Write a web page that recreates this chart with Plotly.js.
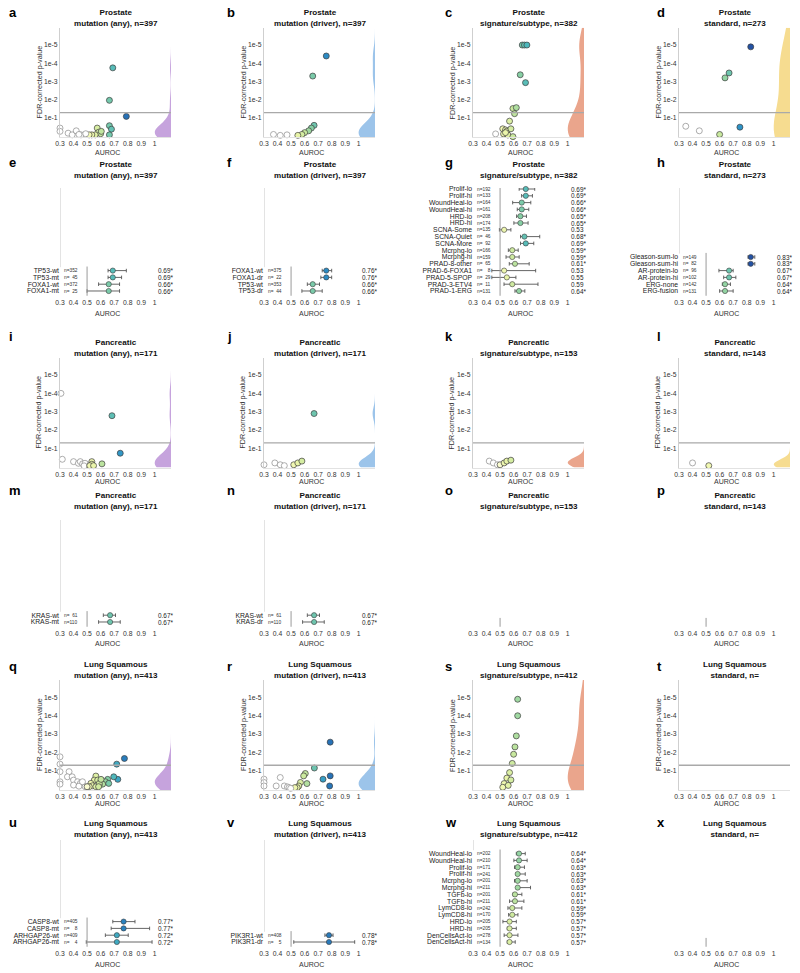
<!DOCTYPE html>
<html><head><meta charset="utf-8">
<script src="https://cdn.plot.ly/plotly-3.0.1.min.js"></script>
<style>body{margin:0;background:#fff}#chart{width:800px;height:973px}</style>
</head><body><div id="chart"></div>
<script>
// ---------- DATA (AUROC, -log10 FDR p) ----------
const aAuc=[0.69,0.665,0.79,0.665,0.68,0.665,0.575,0.585,0.60,0.56,0.535,0.515,0.605,0.30,0.30,0.36,0.39,0.42,0.455,0.49,0.44];
const aNlp=[3.75,1.97,1.09,0.58,0.39,0.08,0.45,0.22,0.14,0.08,0.08,0.08,0.27,0.45,0.27,0.17,0.08,0.30,0.08,0.14,0.10];
const bAuc=[0.76,0.66,0.67,0.65,0.63,0.60,0.58,0.55,0.37,0.42,0.47];
const bNlp=[4.40,3.30,0.60,0.45,0.30,0.20,0.10,0.05,0.10,0.05,0.08];
const cAuc=[0.664,0.68,0.698,0.649,0.688,0.595,0.62,0.607,0.57,0.467,0.52,0.54,0.55,0.58,0.526,0.558,0.595,0.54];
const cNlp=[5.0,5.0,5.0,3.37,2.94,1.52,1.57,1.24,0.83,0.13,0.41,0.35,0.28,0.41,0.13,0.07,-0.02,0.20];
const dAuc=[0.83,0.67,0.64,0.35,0.45,0.60,0.75];
const dNlp=[4.90,3.47,3.20,0.55,0.30,0.10,0.50];
const iAuc=[0.307,0.684,0.745,0.317,0.40,0.436,0.45,0.467,0.485,0.478,0.535,0.535,0.52,0.548,0.61];
const iNlp=[4.0,2.78,0.73,0.40,0.27,0.18,0.27,0.15,0.18,0.04,0.27,0.13,0.05,0.05,0.15];
const jAuc=[0.67,0.30,0.38,0.42,0.45,0.52,0.55,0.58];
const jNlp=[2.90,0.10,0.20,0.10,0.05,0.10,0.20,0.30];
const kAuc=[0.42,0.45,0.48,0.50,0.53,0.55,0.58];
const kNlp=[0.30,0.20,0.10,0.10,0.20,0.30,0.35];
const lAuc=[0.40,0.52];
const lNlp=[0.20,0.05];
const qAuc=[0.776,0.719,0.727,0.697,0.652,0.635,0.66,0.615,0.59,0.30,0.30,0.30,0.30,0.30,0.367,0.355,0.39,0.40,0.43,0.45,0.40,0.44,0.486,0.466,0.565,0.553,0.578,0.528,0.54,0.565,0.59,0.603,0.585,0.516,0.50];
const qNlp=[1.67,1.36,0.53,0.67,0.53,0.40,0.31,0.27,0.22,1.76,1.36,0.95,0.40,0.27,0.95,0.67,0.67,0.49,0.40,0.31,0.22,0.16,0.13,0.40,0.71,0.49,0.49,0.31,0.18,0.13,0.31,0.53,0.13,0.13,0.13];
const rAuc=[0.789,0.672,0.789,0.736,0.785,0.605,0.593,0.617,0.569,0.557,0.545,0.528,0.30,0.30,0.30,0.42,0.39,0.45,0.473,0.485,0.497];
const rNlp=[2.56,1.15,0.72,0.54,0.17,0.85,0.72,0.30,0.36,0.17,0.08,0.08,0.54,0.36,0.17,0.63,0.17,0.17,0.12,0.08,0.04];
const sAuc=[0.63,0.63,0.62,0.61,0.60,0.59,0.57,0.55,0.53,0.52,0.56,0.58];
const sNlp=[4.90,4.00,2.90,2.30,1.90,1.40,0.90,0.60,0.30,0.10,0.20,0.50];
const tAuc=[];
const tNlp=[];

const eLab=['TP53-wt','TP53-mt','FOXA1-wt','FOXA1-mt'];
const eN=[352,45,372,25];
const eAuc=[0.69,0.69,0.66,0.66];
const eLo=[0.655,0.655,0.585,0.50];
const eHi=[0.79,0.755,0.74,0.74];
const eSig=[1,1,1,1];
const fLab=['FOXA1-wt','FOXA1-dr','TP53-wt','TP53-dr'];
const fN=[375,22,353,44];
const fAuc=[0.76,0.76,0.66,0.66];
const fLo=[0.73,0.72,0.62,0.58];
const fHi=[0.80,0.80,0.71,0.73];
const fSig=[1,1,1,1];
const gLab=['Prolif-lo','Prolif-hi','WoundHeal-lo','WoundHeal-hi','HRD-lo','HRD-hi','SCNA-Some','SCNA-Quiet','SCNA-More','Mcrphg-lo','Mcrphg-hi','PRAD-8-other','PRAD-6-FOXA1','PRAD-5-SPOP','PRAD-3-ETV4','PRAD-1-ERG'];
const gN=[192,133,164,161,208,174,135,46,92,166,159,65,8,29,11,131];
const gAuc=[0.69,0.69,0.66,0.66,0.65,0.65,0.53,0.68,0.69,0.59,0.59,0.61,0.53,0.55,0.59,0.64];
const gLo=[0.641,0.659,0.593,0.627,0.622,0.602,0.495,0.651,0.651,0.561,0.544,0.568,0.439,0.439,0.529,0.61];
const gHi=[0.756,0.739,0.727,0.712,0.695,0.707,0.58,0.793,0.749,0.634,0.641,0.715,0.763,0.617,0.78,0.683];
const gSig=[1,1,1,1,1,1,0,1,1,1,1,1,0,0,0,1];
const hLab=['Gleason-sum-lo','Gleason-sum-hi','AR-protein-lo','AR-protein-hi','ERG-none','ERG-fusion'];
const hN=[149,82,96,102,142,131];
const hAuc=[0.83,0.83,0.67,0.67,0.64,0.64];
const hLo=[0.81,0.81,0.595,0.63,0.62,0.60];
const hHi=[0.86,0.86,0.70,0.72,0.68,0.70];
const hSig=[1,1,1,1,1,1];
const mLab=['KRAS-wt','KRAS-mt'];
const mN=[61,110];
const mAuc=[0.67,0.67];
const mLo=[0.62,0.585];
const mHi=[0.71,0.745];
const mSig=[1,1];
const nLab=['KRAS-wt','KRAS-dr'];
const nN=[61,110];
const nAuc=[0.67,0.67];
const nLo=[0.62,0.585];
const nHi=[0.71,0.745];
const nSig=[1,1];
const uLab=['CASP8-wt','CASP8-mt','ARHGAP26-wt','ARHGAP26-mt'];
const uN=[405,8,409,4];
const uAuc=[0.77,0.77,0.72,0.72];
const uLo=[0.69,0.678,0.635,0.494];
const uHi=[0.854,0.962,0.804,0.98];
const uSig=[1,1,1,1];
const vLab=['PIK3R1-wt','PIK3R1-dr'];
const vN=[408,5];
const vAuc=[0.78,0.78];
const vLo=[0.75,0.52];
const vHi=[0.81,0.97];
const vSig=[1,1];
const wLab=['WoundHeal-lo','WoundHeal-hi','Prolif-lo','Prolif-hi','Mcrphg-lo','Mcrphg-hi','TGFb-lo','TGFb-hi','LymCD8-lo','LymCD8-hi','HRD-lo','HRD-hi','DenCellsAct-lo','DenCellsAct-hi'];
const wN=[202,210,171,241,201,211,201,211,242,170,205,205,278,134];
const wAuc=[0.64,0.64,0.63,0.63,0.63,0.63,0.61,0.61,0.59,0.59,0.57,0.57,0.57,0.57];
const wLo=[0.62,0.602,0.607,0.62,0.607,0.632,0.595,0.57,0.558,0.563,0.521,0.553,0.53,0.553];
const wHi=[0.686,0.70,0.68,0.686,0.70,0.725,0.661,0.676,0.661,0.632,0.62,0.62,0.632,0.612];
const wSig=[1,1,1,1,1,1,1,1,1,1,1,1,1,1];
const emptyLab=[];

const xTicks=[0.3,0.4,0.5,0.6,0.7,0.8,0.9,1];
const xTickText=['0.3','0.4','0.5','0.6','0.7','0.8','0.9','1'];
const yTicks=[1,2,3,4,5];
const yTickText=['1e-1','1e-2','1e-3','1e-4','1e-5'];

// ---------- STYLE / LAYOUT ----------
const W=800,H=973;
const PURPLE='#c6a3dd',BLUE='#9cc4ea',SALMON='#eaa58c',YELLOW='#f6dc90';
const COLX=[60,264,473,679], PW=111;
const ROWY=[[27.7,137.2],[188,297],[357.7,467.5],[520,628],[680,790],[840,948]];
const TITLEY=[18,169.5,348,500.5,669.5,829];
const LETTERY=[13,163,336,490,666,822];
const LETTERX=[7,225,443,655];
const AUROCY=[152,313,482,643,803,964];
const ROWSP=6.8;
const CS=[[0,'#ffffff'],[0.3332,'#ffffff'],[0.3334,'#f7fbb9'],[0.4167,'#e8f4a8'],[0.5,'#c8e89e'],[0.5833,'#86cfa4'],[0.6667,'#4bb7bd'],[0.75,'#2e93c7'],[0.8333,'#2569b2'],[0.9167,'#22439a'],[1,'#1d2f85']];

const P=(s1,s2)=>[s1,s2];
const panels=[
 {id:'a',r:0,c:0,kind:'v',t:P('Prostate','mutation (any), n=397'),auc:aAuc,nlp:aNlp,vc:PURPLE,bw:0.42},
 {id:'b',r:0,c:1,kind:'v',t:P('Prostate','mutation (driver), n=397'),auc:bAuc,nlp:bNlp,vc:BLUE,bw:0.5},
 {id:'c',r:0,c:2,kind:'v',t:P('Prostate','signature/subtype, n=382'),auc:cAuc,nlp:cNlp,vc:SALMON,bw:0.75},
 {id:'d',r:0,c:3,kind:'v',t:P('Prostate','standard, n=273'),auc:dAuc,nlp:dNlp,vc:YELLOW,bw:1.3},
 {id:'e',r:1,c:0,kind:'f',t:P('Prostate','mutation (any), n=397'),lab:eLab,n:eN,auc:eAuc,lo:eLo,hi:eHi,sig:eSig},
 {id:'f',r:1,c:1,kind:'f',t:P('Prostate','mutation (driver), n=397'),lab:fLab,n:fN,auc:fAuc,lo:fLo,hi:fHi,sig:fSig},
 {id:'g',r:1,c:2,kind:'f',t:P('Prostate','signature/subtype, n=382'),lab:gLab,n:gN,auc:gAuc,lo:gLo,hi:gHi,sig:gSig},
 {id:'h',r:1,c:3,kind:'f',t:P('Prostate','standard, n=273'),lab:hLab,n:hN,auc:hAuc,lo:hLo,hi:hHi,sig:hSig},
 {id:'i',r:2,c:0,kind:'v',t:P('Pancreatic','mutation (any), n=171'),auc:iAuc,nlp:iNlp,vc:PURPLE,bw:0.45},
 {id:'j',r:2,c:1,kind:'v',t:P('Pancreatic','mutation (driver), n=171'),auc:jAuc,nlp:jNlp,vc:BLUE,bw:0.35},
 {id:'k',r:2,c:2,kind:'v',t:P('Pancreatic','signature/subtype, n=153'),auc:kAuc,nlp:kNlp,vc:SALMON,bw:0.25},
 {id:'l',r:2,c:3,kind:'v',t:P('Pancreatic','standard, n=143'),auc:lAuc,nlp:lNlp,vc:YELLOW,bw:0.25},
 {id:'m',r:3,c:0,kind:'f',t:P('Pancreatic','mutation (any), n=171'),lab:mLab,n:mN,auc:mAuc,lo:mLo,hi:mHi,sig:mSig},
 {id:'n',r:3,c:1,kind:'f',t:P('Pancreatic','mutation (driver), n=171'),lab:nLab,n:nN,auc:nAuc,lo:nLo,hi:nHi,sig:nSig},
 {id:'o',r:3,c:2,kind:'f',t:P('Pancreatic','signature/subtype, n=153'),lab:emptyLab,n:[],auc:[],lo:[],hi:[],sig:[]},
 {id:'p',r:3,c:3,kind:'f',t:P('Pancreatic','standard, n=143'),lab:emptyLab,n:[],auc:[],lo:[],hi:[],sig:[]},
 {id:'q',r:4,c:0,kind:'v',t:P('Lung Squamous','mutation (any), n=413'),auc:qAuc,nlp:qNlp,vc:PURPLE,bw:0.42},
 {id:'r',r:4,c:1,kind:'v',t:P('Lung Squamous','mutation (driver), n=413'),auc:rAuc,nlp:rNlp,vc:BLUE,bw:0.42},
 {id:'s',r:4,c:2,kind:'v',t:P('Lung Squamous','signature/subtype, n=412'),auc:sAuc,nlp:sNlp,vc:SALMON,bw:0.8},
 {id:'t',r:4,c:3,kind:'v',t:P('Lung Squamous','standard, n='),auc:tAuc,nlp:tNlp,vc:YELLOW,bw:0.5},
 {id:'u',r:5,c:0,kind:'f',t:P('Lung Squamous','mutation (any), n=413'),lab:uLab,n:uN,auc:uAuc,lo:uLo,hi:uHi,sig:uSig},
 {id:'v',r:5,c:1,kind:'f',t:P('Lung Squamous','mutation (driver), n=413'),lab:vLab,n:vN,auc:vAuc,lo:vLo,hi:vHi,sig:vSig},
 {id:'w',r:5,c:2,kind:'f',t:P('Lung Squamous','signature/subtype, n=412'),lab:wLab,n:wN,auc:wAuc,lo:wLo,hi:wHi,sig:wSig},
 {id:'x',r:5,c:3,kind:'f',t:P('Lung Squamous','standard, n='),lab:emptyLab,n:[],auc:[],lo:[],hi:[],sig:[]}
];

const FONT='Liberation Sans, Arial, sans-serif';
const traces=[], shapes=[], ann=[];
const layout={width:W,height:H,margin:{l:0,r:0,t:0,b:0},paper_bgcolor:'#fff',plot_bgcolor:'rgba(0,0,0,0)',
  showlegend:false,font:{family:FONT,color:'#222'},shapes:shapes,annotations:ann};

panels.forEach((p,i)=>{
  const k=i+1, sfx=(k===1?'':String(k));
  const xa='x'+sfx, ya='y'+sfx;
  const xl=COLX[p.c], yt=ROWY[p.r][0], yb=ROWY[p.r][1];
  const cx=xl+PW/2;
  layout['xaxis'+sfx]={domain:[xl/W,(xl+PW)/W],anchor:ya,range:[0.3,1.12],tickvals:xTicks,ticktext:xTickText,
    ticks:'',showgrid:false,zeroline:false,showline:p.kind==='v',linecolor:'#e2e2e2',linewidth:1,
    tickfont:{size:6.8,color:'#333',family:FONT},fixedrange:true};
  ann.push({xref:'paper',yref:'paper',x:cx/W,y:1-TITLEY[p.r]/H,text:'<b>'+p.t[0]+'<br>'+p.t[1]+'</b>',showarrow:false,
    xanchor:'center',yanchor:'middle',font:{size:8.1,color:'#111',family:FONT}});
  ann.push({xref:'paper',yref:'paper',x:LETTERX[p.c]/W,y:1-LETTERY[p.r]/H,text:'<b>'+p.id+'</b>',showarrow:false,
    xanchor:'left',yanchor:'middle',font:{size:13,color:'#000',family:FONT}});
  ann.push({xref:'paper',yref:'paper',x:(xl+(0.65-0.3)/0.82*PW)/W,y:1-AUROCY[p.r]/H,text:'AUROC',showarrow:false,
    xanchor:'center',yanchor:'middle',font:{size:7,color:'#333',family:FONT}});
  if(p.kind==='v'){
    layout['yaxis'+sfx]={domain:[1-yb/H,1-yt/H],anchor:xa,range:[-0.05,5.95],tickvals:yTicks,ticktext:yTickText,
      ticks:'',showgrid:false,zeroline:false,showline:true,linecolor:'#cfcfcf',linewidth:1,
      tickfont:{size:6.8,color:'#333',family:FONT},fixedrange:true};
    ann.push({xref:'paper',yref:'paper',x:(xl-21)/W,y:1-((yt+yb)/2)/H,text:'FDR-corrected p-value',textangle:-90,
      showarrow:false,xanchor:'center',yanchor:'middle',font:{size:7.2,color:'#333',family:FONT}});
    if(p.nlp.length){
      traces.push({type:'violin',x0:1.12,y:p.nlp,side:'negative',width:0.24,scalemode:'width',spanmode:'manual',
        span:[-0.05,5.95],bandwidth:p.bw,fillcolor:p.vc,line:{width:0,color:p.vc},points:false,box:{visible:false},
        meanline:{visible:false},hoverinfo:'skip',xaxis:xa,yaxis:ya,opacity:1});
    }
    shapes.push({type:'line',xref:xa,yref:ya,x0:0.3,x1:1.12,y0:1.301,y1:1.301,line:{color:'#a9a9a9',width:1.3},layer:'above'});
    traces.push({type:'scatter',mode:'markers',x:p.auc,y:p.nlp,xaxis:xa,yaxis:ya,cliponaxis:false,hoverinfo:'x+y',
      marker:{size:6,color:p.auc,colorscale:CS,cmin:0.3,cmax:0.9,
        line:{width:0.7,color:p.auc.map(v=>v<0.5?'#8a8a8a':'#3d3d3d')}}});
  } else {
    const N=p.lab.length, Hp=yb-yt;
    const r0=-6/ROWSP, r1=r0+Hp/ROWSP;
    const pos=p.lab.map((_,j)=>N-1-j);
    layout['yaxis'+sfx]={domain:[1-yb/H,1-yt/H],anchor:xa,range:[r0,r1],tickvals:pos,ticktext:p.lab,
      ticks:'',showgrid:false,zeroline:false,showline:false,
      tickfont:{size:6.8,color:'#222',family:FONT},fixedrange:true};
    if(N>0){
      shapes.push({type:'line',xref:xa,yref:ya,x0:0.3,x1:0.3,y0:N-0.5,y1:r1,line:{color:'#c8c8c8',width:1}});
    }
    shapes.push({type:'line',xref:xa,yref:ya,x0:0.5,x1:0.5,y0:-0.7,y1:Math.max(N,1)-0.4,line:{color:'#9a9a9a',width:1}});
    if(N>0){
      traces.push({type:'scatter',mode:'markers',x:p.auc,y:pos,xaxis:xa,yaxis:ya,cliponaxis:false,hoverinfo:'x',
        error_x:{type:'data',symmetric:false,array:p.hi.map((h,j)=>h-p.auc[j]),arrayminus:p.lo.map((l,j)=>p.auc[j]-l),
          color:'#555',thickness:0.9,width:1.8},
        marker:{size:5.2,color:p.auc,colorscale:CS,cmin:0.3,cmax:0.9,line:{width:0.6,color:'#3d3d3d'}}});
      p.lab.forEach((_,j)=>{
        ann.push({xref:xa,yref:ya,x:0.312,y:pos[j],text:'n='+String(p.n[j]).padStart(3,'\u2007'),showarrow:false,
          xanchor:'left',yanchor:'middle',font:{size:4.8,color:'#333',family:FONT}});
        ann.push({xref:xa,yref:ya,x:1.01,y:pos[j],text:p.auc[j].toFixed(2)+(p.sig[j]?'*':''),showarrow:false,
          xanchor:'left',yanchor:'middle',font:{size:6.4,color:'#222',family:FONT}});
      });
    }
  }
});

Plotly.newPlot('chart',traces,layout,{staticPlot:true,displayModeBar:false});
</script></body></html>
